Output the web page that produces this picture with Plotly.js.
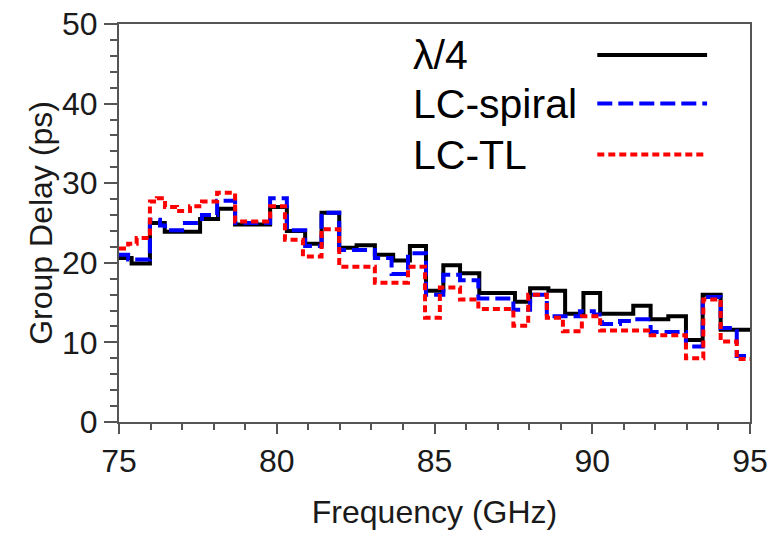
<!DOCTYPE html>
<html>
<head>
<meta charset="utf-8">
<script src="https://cdn.plot.ly/plotly-3.0.1.min.js"></script>
<style>html,body{margin:0;padding:0;background:#fff;}#chart{width:769px;height:535px;}</style>
</head>
<body>
<div id="chart"></div>
<script>
// Frequency (GHz) step edges and group delay (ps) per series
const freqQuarter = [75, 75.40, 75.98, 76.45, 77.57, 78.14, 78.68, 79.79, 80.32, 80.90, 81.42, 81.98, 82.53, 83.11, 83.69, 84.22, 84.73, 85.28, 85.81, 86.42, 87.55, 88.03, 88.61, 89.14, 89.72, 90.25, 91.30, 91.85, 92.41, 92.97, 93.50, 94.07, 95];
const delayQuarter = [20.6, 19.9, 25.0, 23.9, 25.5, 26.8, 24.8, 27.0, 24.0, 22.4, 26.3, 21.9, 22.2, 21.0, 20.3, 22.1, 16.5, 19.7, 18.7, 16.2, 15.1, 16.8, 16.5, 13.6, 16.2, 13.6, 14.6, 12.9, 13.3, 10.3, 16.0, 11.6, 11.6];

const freqSpiral = [75, 75.29, 75.98, 76.30, 76.46, 77.00, 77.63, 78.11, 78.68, 79.79, 80.32, 80.90, 81.42, 81.98, 83.11, 83.64, 84.16, 84.73, 85.28, 85.81, 86.39, 87.50, 88.03, 88.56, 89.61, 90.05, 90.31, 90.88, 91.26, 91.85, 92.97, 93.50, 94.07, 94.58, 95];
const delaySpiral = [21.0, 20.4, 25.4, 24.7, 24.1, 25.0, 26.0, 27.8, 25.0, 28.1, 24.1, 22.1, 26.3, 21.6, 20.6, 18.6, 21.2, 16.0, 18.5, 17.8, 15.5, 14.1, 16.0, 13.3, 13.9, 13.5, 12.3, 12.7, 12.9, 11.3, 9.5, 15.7, 11.8, 8.3, 8.3];

const freqTL = [75, 75.29, 75.56, 75.98, 76.20, 76.46, 76.84, 77.25, 77.63, 78.11, 78.68, 79.79, 80.26, 80.83, 81.42, 81.98, 83.11, 84.16, 84.70, 85.17, 85.81, 86.39, 87.50, 87.97, 88.56, 89.07, 89.67, 90.25, 91.85, 92.97, 93.52, 94.07, 94.58, 95];
const delayTL = [21.8, 22.4, 23.1, 27.7, 28.1, 27.0, 26.5, 27.1, 27.7, 28.8, 25.2, 27.1, 22.9, 20.8, 24.2, 19.5, 17.5, 19.5, 13.1, 16.9, 15.4, 14.2, 12.1, 16.0, 13.1, 11.4, 13.3, 11.5, 10.9, 8.0, 15.4, 10.1, 7.9, 7.9];

const seriesNames = ['\u03bb/4', 'LC-spiral', 'LC-TL'];
const xTicks = [75, 80, 85, 90, 95];
const yTicks = [0, 10, 20, 30, 40, 50];

const FONT = 'Liberation Sans, Arial, sans-serif';
const styles = [
  {color: '#000000', dash: 'solid'},
  {color: '#0000ff', dash: '15px,6px'},
  {color: '#ff0000', dash: '7px,4px'}
];
const xs = [freqQuarter, freqSpiral, freqTL];
const ys = [delayQuarter, delaySpiral, delayTL];

const traces = xs.map((x, i) => ({
  x: x, y: ys[i], type: 'scatter', mode: 'lines', name: seriesNames[i],
  line: {shape: 'hv', width: 4, color: styles[i].color, dash: styles[i].dash},
  showlegend: false
}));

// custom legend: text on the left, sample on the right
const legY = [0.922, 0.800, 0.672];
const annotations = seriesNames.map((n, i) => ({
  xref: 'paper', yref: 'paper', x: 0.462, y: legY[i], xanchor: 'left', yanchor: 'middle',
  text: n, showarrow: false, font: {family: FONT, size: 41, color: '#000'}
}));
const shapes = seriesNames.map((n, i) => ({
  type: 'line', xref: 'paper', yref: 'paper', x0: 0.758, x1: 0.932, y0: legY[i], y1: legY[i],
  line: {color: styles[i].color, width: 4, dash: styles[i].dash}
}));

const layout = {
  width: 769, height: 535,
  margin: {l: 119, r: 19, t: 24, b: 113},
  paper_bgcolor: '#fff', plot_bgcolor: '#fff',
  font: {family: FONT, color: '#000'},
  xaxis: {
    range: [75, 95], tickvals: xTicks, ticktext: xTicks.map(String),
    ticks: 'outside', ticklen: 10, tickwidth: 2, tickcolor: '#555',
    minor: {dtick: 1, ticks: 'outside', ticklen: 6, tickwidth: 2, tickcolor: '#555'},
    showline: true, linecolor: '#555', linewidth: 2, mirror: true,
    showgrid: false, zeroline: false,
    tickfont: {family: FONT, size: 32, color: '#1a1a1a'},
    title: {text: 'Frequency (GHz)', font: {family: FONT, size: 32, color: '#1a1a1a'}, standoff: 22}
  },
  yaxis: {
    range: [0, 50], tickvals: yTicks, ticktext: yTicks.map(String),
    ticks: 'outside', ticklen: 13, tickwidth: 2, tickcolor: '#555',
    minor: {dtick: 2, ticks: 'outside', ticklen: 7, tickwidth: 2, tickcolor: '#555'},
    showline: true, linecolor: '#555', linewidth: 2, mirror: true,
    showgrid: false, zeroline: false,
    tickfont: {family: FONT, size: 32, color: '#1a1a1a'},
    title: {text: 'Group Delay (ps)', font: {family: FONT, size: 32, color: '#1a1a1a'}, standoff: 0}
  },
  annotations: annotations,
  shapes: shapes
};

Plotly.newPlot('chart', traces, layout, {displayModeBar: false, staticPlot: true});
</script>
</body>
</html>
